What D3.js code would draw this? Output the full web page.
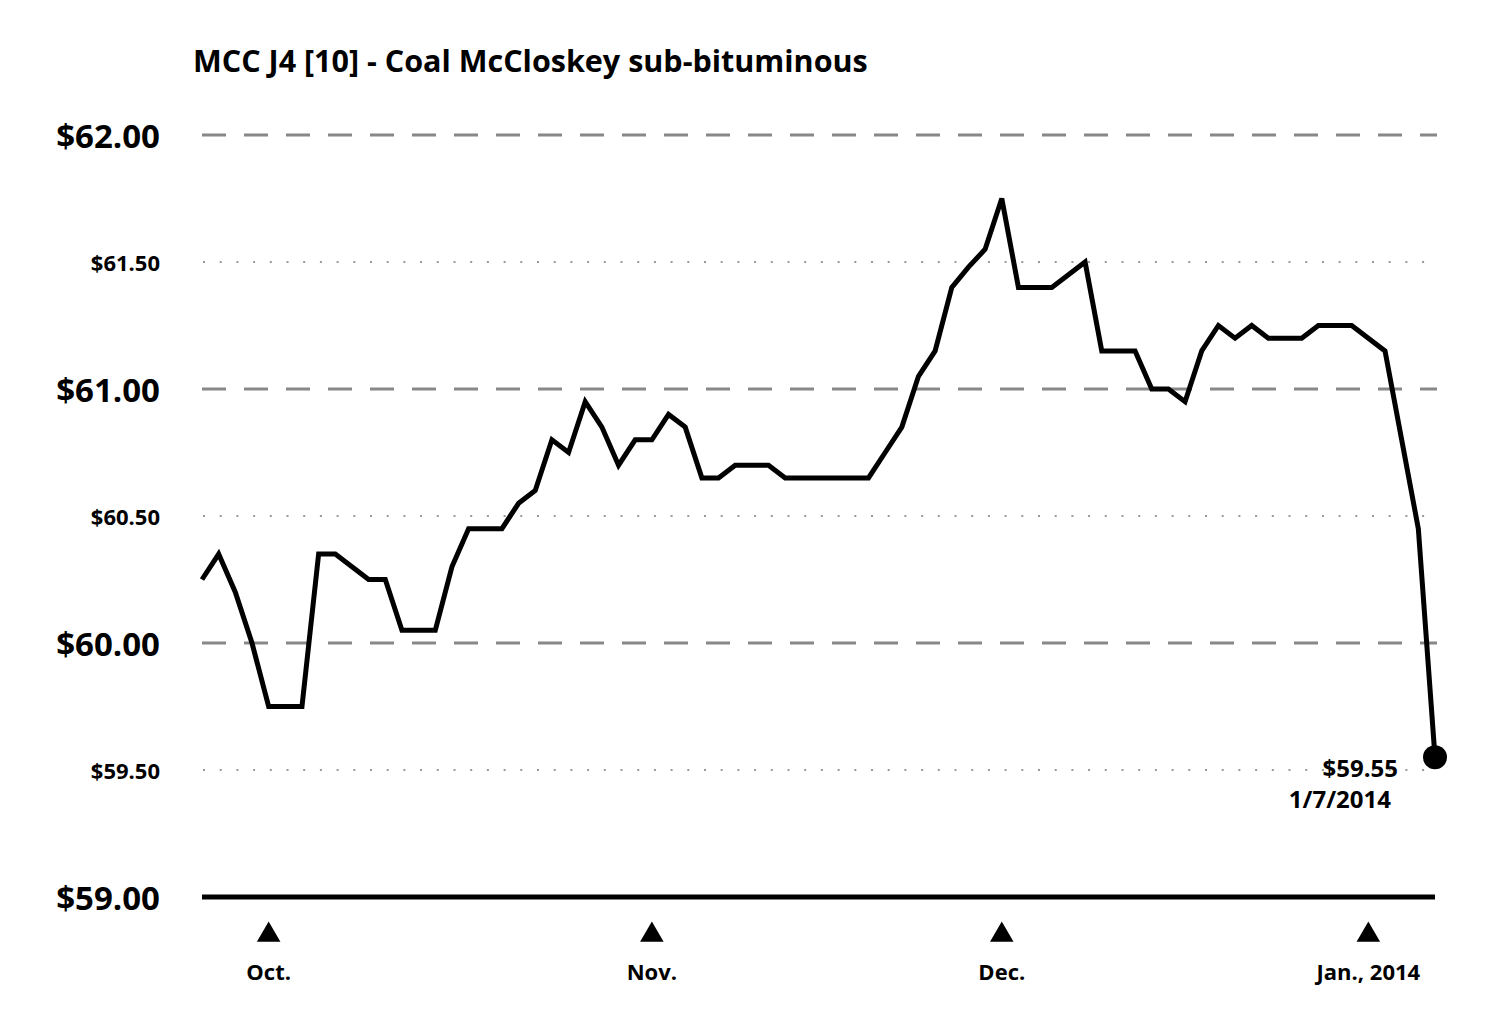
<!DOCTYPE html>
<html>
<head>
<meta charset="utf-8">
<script src="https://cdn.jsdelivr.net/npm/d3@7"></script>
<style>
    body { margin: 0; background: #ffffff; }
    text { font-family: "Open Sans", "DejaVu Sans", sans-serif; font-weight: bold; fill: #000000; }
</style>
</head>
<body>
<div id="chart"></div>
<script>
// daily closing prices, one per trading day (9/25/2013 .. 1/7/2014)
var prices = [
    60.25, 60.35, 60.20, 60.00, 59.75, 59.75, 59.75, 60.35, 60.35, 60.30,
    60.25, 60.25, 60.05, 60.05, 60.05, 60.30, 60.45, 60.45, 60.45, 60.55,
    60.60, 60.80, 60.75, 60.95, 60.85, 60.70, 60.80, 60.80, 60.90, 60.85,
    60.65, 60.65, 60.70, 60.70, 60.70, 60.65, 60.65, 60.65, 60.65, 60.65,
    60.65, 60.75, 60.85, 61.05, 61.15, 61.40, 61.48, 61.55, 61.75, 61.40,
    61.40, 61.40, 61.45, 61.50, 61.15, 61.15, 61.15, 61.00, 61.00, 60.95,
    61.15, 61.25, 61.20, 61.25, 61.20, 61.20, 61.20, 61.25, 61.25, 61.25,
    61.20, 61.15, 60.80, 60.45, 59.55
];

// month markers (trading day index) and their labels
var monthIndex = [4, 27, 48, 70];
var monthLabels = ["Oct.", "Nov.", "Dec.", "Jan., 2014"];

// y gridlines
var majorTicks = [60, 61, 62];
var minorTicks = [59.5, 60.5, 61.5];
var baseValue = 59;

var title = "MCC J4 [10] - Coal McCloskey sub-bituminous";
var lastLabel = ["$59.55", "1/7/2014"];

let svgWidth = 1503;
let svgHeight = 1024;

var svg = d3.select("#chart")
    .append("svg")
    .attr("width", svgWidth)
    .attr("height", svgHeight);

// scales
var xScale = d3.scaleLinear()
    .domain([0, prices.length - 1])
    .range([202, 1435]);

var yScale = d3.scaleLinear()
    .domain([59, 62])
    .range([897, 135]);

var fmt = d3.format("$.2f");

// title
svg.append("text")
    .attr("x", 193)
    .attr("y", 72)
    .attr("font-size", "30.5px")
    .text(title);

// dashed major gridlines
svg.selectAll(".major")
    .data(majorTicks)
    .enter()
    .append("line")
    .attr("x1", 202)
    .attr("x2", 1437)
    .attr("y1", d => yScale(d))
    .attr("y2", d => yScale(d))
    .attr("stroke", "#888888")
    .attr("stroke-width", 3)
    .attr("stroke-dasharray", "24,18");

// dotted minor gridlines
svg.selectAll(".minor")
    .data(minorTicks)
    .enter()
    .append("line")
    .attr("x1", 203)
    .attr("x2", 1437)
    .attr("y1", d => yScale(d))
    .attr("y2", d => yScale(d))
    .attr("stroke", "#999999")
    .attr("stroke-width", 2)
    .attr("stroke-dasharray", "2,14.7");

// baseline
svg.append("line")
    .attr("x1", 202)
    .attr("x2", 1435)
    .attr("y1", yScale(baseValue))
    .attr("y2", yScale(baseValue))
    .attr("stroke", "#000000")
    .attr("stroke-width", 5);

// y labels
svg.selectAll(".majorLabel")
    .data(majorTicks.concat([baseValue]))
    .enter()
    .append("text")
    .attr("x", 160)
    .attr("y", d => yScale(d) + 13)
    .attr("text-anchor", "end")
    .attr("font-size", "33px")
    .text(d => fmt(d));

svg.selectAll(".minorLabel")
    .data(minorTicks)
    .enter()
    .append("text")
    .attr("x", 160)
    .attr("y", d => yScale(d) + 9)
    .attr("text-anchor", "end")
    .attr("font-size", "22px")
    .text(d => fmt(d));

// month markers
var triangle = d3.symbol().type(d3.symbolTriangle).size(240);

svg.selectAll(".marker")
    .data(monthIndex)
    .enter()
    .append("path")
    .attr("d", triangle)
    .attr("transform", d => `translate(${xScale(d)}, 935)`)
    .attr("fill", "#000000");

svg.selectAll(".monthLabel")
    .data(monthLabels)
    .enter()
    .append("text")
    .attr("x", (d, i) => xScale(monthIndex[i]))
    .attr("y", 980)
    .attr("text-anchor", "middle")
    .attr("font-size", "22px")
    .text(d => d);

// price line
var line = d3.line()
    .x((d, i) => xScale(i))
    .y(d => yScale(d));

svg.append("path")
    .datum(prices)
    .attr("d", line)
    .attr("fill", "none")
    .attr("stroke", "#000000")
    .attr("stroke-width", 5)
    .attr("stroke-linejoin", "miter");

// last point and its label
var lastI = prices.length - 1;

svg.append("circle")
    .attr("cx", xScale(lastI))
    .attr("cy", yScale(prices[lastI]))
    .attr("r", 12)
    .attr("fill", "#000000");

svg.append("text")
    .attr("x", xScale(lastI) - 37)
    .attr("y", yScale(prices[lastI]) + 20)
    .attr("text-anchor", "end")
    .attr("font-size", "24px")
    .text(lastLabel[0]);

svg.append("text")
    .attr("x", xScale(lastI) - 44)
    .attr("y", yScale(prices[lastI]) + 51)
    .attr("text-anchor", "end")
    .attr("font-size", "24px")
    .text(lastLabel[1]);
</script>
</body>
</html>
